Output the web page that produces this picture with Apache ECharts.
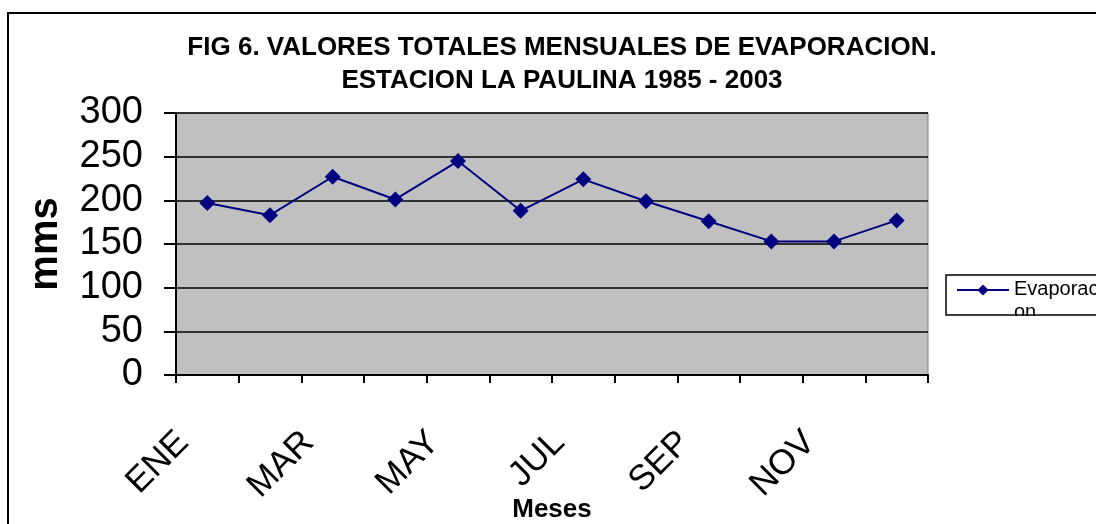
<!DOCTYPE html>
<html>
<head>
<meta charset="utf-8">
<script src="https://cdn.jsdelivr.net/npm/echarts@6/dist/echarts.min.js"></script>
<style>
  html, body { margin: 0; padding: 0; background: #fff; }
  #main { width: 1096px; height: 524px; }
</style>
</head>
<body>
<div id="main"></div>
<script>
// datos
var meses = ['ENE', 'FEB', 'MAR', 'ABR', 'MAY', 'JUN', 'JUL', 'AGO', 'SEP', 'OCT', 'NOV', 'DIC'];
var evaporacion = [197, 183, 227, 201, 245, 188, 224, 199, 176, 153, 153, 177];
var serieNombre = 'Evaporacion';

var myChart = echarts.init(document.getElementById('main'));

var option = {
    backgroundColor: '#ffffff',
    animation: false,
    title: {
        text: 'FIG 6. VALORES TOTALES MENSUALES DE EVAPORACION.\nESTACION LA PAULINA 1985 - 2003',
        left: 557,
        top: 26,
        textAlign: 'center',
        textStyle: {
            fontFamily: 'Liberation Sans, Arial',
            fontSize: 26,
            fontWeight: 'bold',
            color: '#000',
            lineHeight: 33
        }
    },
    graphic: [{
        type: 'rect',
        shape: { x: 8, y: 13, width: 1100, height: 530 },
        style: { fill: 'none', stroke: '#000', lineWidth: 2 },
        silent: true
    }, {
        // fondo de la caja de leyenda
        type: 'rect',
        shape: { x: 946, y: 275, width: 200, height: 40 },
        style: { fill: '#fff' },
        z: -1,
        silent: true
    }, {
        // recorte inferior del texto de la leyenda
        type: 'rect',
        shape: { x: 940, y: 316, width: 160, height: 20 },
        style: { fill: '#fff' },
        z: 50,
        silent: true
    }, {
        type: 'rect',
        shape: { x: 946, y: 275, width: 200, height: 40 },
        style: { fill: 'none', stroke: '#000', lineWidth: 1.5 },
        z: 51,
        silent: true
    }],
    legend: {
        data: [serieNombre],
        left: 956,
        top: 279,
        orient: 'vertical',
        padding: 0,
        itemWidth: 52,
        itemHeight: 14,
        itemGap: 0,
        formatter: function () { return '{a|Evaporaci}\n{b|on}'; },
        lineStyle: { width: 2 },
        textStyle: {
            fontFamily: 'Liberation Sans, Arial',
            fontSize: 20,
            color: '#000',
            rich: {
                a: { fontFamily: 'Liberation Sans, Arial', fontSize: 20, lineHeight: 26, color: '#000' },
                b: { fontFamily: 'Liberation Sans, Arial', fontSize: 20, lineHeight: 2, verticalAlign: 'top', color: '#000' }
            }
        }
    },
    grid: {
        left: 176,
        right: 168,
        top: 113,
        bottom: 149,
        outerBoundsMode: 'none',
        containLabel: false,
        show: true,
        backgroundColor: '#C0C0C0',
        borderColor: '#808080',
        borderWidth: 1
    },
    xAxis: {
        type: 'category',
        data: meses,
        boundaryGap: true,
        name: 'Meses',
        nameLocation: 'middle',
        nameGap: 122,
        nameMoveOverlap: false,
        nameTextStyle: {
            fontFamily: 'Liberation Sans, Arial',
            fontSize: 26,
            fontWeight: 'bold',
            color: '#000'
        },
        axisLine: { show: true, lineStyle: { color: '#000', width: 2 } },
        axisTick: { show: true, interval: 0, length: 8, lineStyle: { color: '#000', width: 2 } },
        axisLabel: {
            interval: 1,
            rotate: 45,
            margin: 38,
            padding: [0, 34, 0, 0],
            fontFamily: 'Liberation Sans, Arial',
            fontSize: 35,
            color: '#000'
        },
        splitLine: { show: false }
    },
    yAxis: {
        type: 'value',
        min: 0,
        max: 300,
        interval: 50,
        name: 'mms',
        nameLocation: 'middle',
        nameGap: 110,
        nameMoveOverlap: false,
        nameRotate: 90,
        nameTextStyle: {
            fontFamily: 'Liberation Sans, Arial',
            fontSize: 40,
            fontWeight: 'bold',
            color: '#000'
        },
        axisLine: { show: true, lineStyle: { color: '#000', width: 2 } },
        axisTick: { show: true, length: 12, lineStyle: { color: '#000', width: 2 } },
        axisLabel: {
            margin: 33,
            fontFamily: 'Liberation Sans, Arial',
            fontSize: 38,
            color: '#000'
        },
        splitLine: { show: true, lineStyle: { color: '#000', width: 1.5 } }
    },
    series: [{
        name: serieNombre,
        type: 'line',
        data: evaporacion,
        symbol: 'diamond',
        symbolSize: 16,
        itemStyle: { color: '#000080' },
        lineStyle: { color: '#000080', width: 2 }
    }]
};

myChart.setOption(option);
</script>
</body>
</html>
